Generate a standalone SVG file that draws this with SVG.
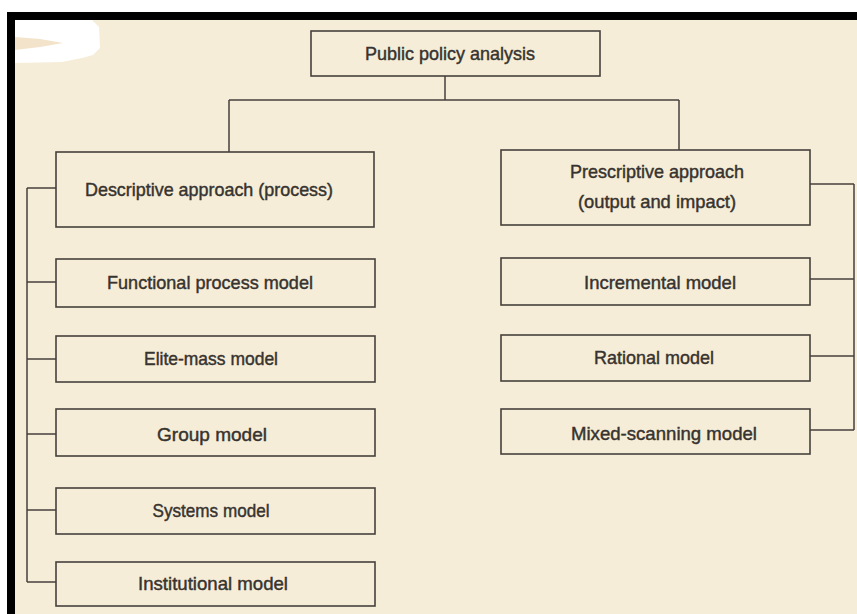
<svg xmlns="http://www.w3.org/2000/svg" width="857" height="614" viewBox="0 0 857 614">
  <style>
    .box { fill: none; stroke: #45403c; stroke-width: 1.6; }
    .wire { fill: none; stroke: #45403c; stroke-width: 1.5; }
    .label { font-family: "Liberation Sans", "Open Sans", sans-serif; font-size: 19px; fill: #37332f; stroke: #37332f; stroke-width: 0.45; text-anchor: middle; dominant-baseline: central; }
  </style>

  <!-- paper and scan frame -->
  <rect x="0" y="0" width="857" height="614" fill="#ffffff"/>
  <rect x="15" y="20" width="842" height="594" fill="#f6edd8"/>
  <rect x="7" y="12" width="850" height="8" fill="#000000"/>
  <rect x="7" y="12" width="8" height="602" fill="#000000"/>
  <path d="M15,20 L92,20 L99,27 L100,48 L93,55 L82,58 L62,62 L15,63 Z" fill="#ffffff"/>
  <path d="M15,37 L40,39 L63,43 L40,47 L15,50 Z" fill="#f3e3ca"/>

  <!-- connectors -->
  <g id="connectors">
    <path class="wire" d="M445,76 V100 M229,100 H679 M229,100 V152 M679,100 V150"/>
    <path class="wire" d="M27,188 V582 M27,188 H56 M27,282 H56 M27,359 H56 M27,434 H56 M27,510 H56 M27,582 H56"/>
    <path class="wire" d="M854,184 V430 M810,184 H854 M810,279 H854 M810,356 H854 M810,430 H854"/>
  </g>

  <!-- root -->
  <g id="public-policy-analysis">
    <rect class="box" x="311" y="31" width="289" height="45"/>
    <text class="label" x="450" y="53" textLength="170" lengthAdjust="spacingAndGlyphs">Public policy analysis</text>
  </g>

  <!-- descriptive branch -->
  <g id="descriptive-approach">
    <rect class="box" x="56" y="152" width="318" height="75"/>
    <text class="label" x="209" y="189" textLength="248" lengthAdjust="spacingAndGlyphs">Descriptive approach (process)</text>
  </g>
  <g id="functional-process-model">
    <rect class="box" x="56" y="259" width="319" height="48"/>
    <text class="label" x="210" y="282" textLength="206" lengthAdjust="spacingAndGlyphs">Functional process model</text>
  </g>
  <g id="elite-mass-model">
    <rect class="box" x="56" y="336" width="319" height="46"/>
    <text class="label" x="211" y="358" textLength="134" lengthAdjust="spacingAndGlyphs">Elite-mass model</text>
  </g>
  <g id="group-model">
    <rect class="box" x="56" y="409" width="319" height="47"/>
    <text class="label" x="212" y="434" textLength="110" lengthAdjust="spacingAndGlyphs">Group model</text>
  </g>
  <g id="systems-model">
    <rect class="box" x="56" y="488" width="319" height="46"/>
    <text class="label" x="211" y="510" textLength="117" lengthAdjust="spacingAndGlyphs">Systems model</text>
  </g>
  <g id="institutional-model">
    <rect class="box" x="56" y="562" width="319" height="44"/>
    <text class="label" x="213" y="583" textLength="150" lengthAdjust="spacingAndGlyphs">Institutional model</text>
  </g>

  <!-- prescriptive branch -->
  <g id="prescriptive-approach">
    <rect class="box" x="501" y="150" width="309" height="75"/>
    <text class="label" x="657" y="171" textLength="174" lengthAdjust="spacingAndGlyphs">Prescriptive approach</text>
    <text class="label" x="657" y="201" textLength="158" lengthAdjust="spacingAndGlyphs">(output and impact)</text>
  </g>
  <g id="incremental-model">
    <rect class="box" x="501" y="258" width="309" height="47"/>
    <text class="label" x="660" y="282" textLength="152" lengthAdjust="spacingAndGlyphs">Incremental model</text>
  </g>
  <g id="rational-model">
    <rect class="box" x="501" y="335" width="309" height="46"/>
    <text class="label" x="654" y="357" textLength="120" lengthAdjust="spacingAndGlyphs">Rational model</text>
  </g>
  <g id="mixed-scanning-model">
    <rect class="box" x="501" y="409" width="309" height="45"/>
    <text class="label" x="664" y="433" textLength="186" lengthAdjust="spacingAndGlyphs">Mixed-scanning model</text>
  </g>
</svg>
